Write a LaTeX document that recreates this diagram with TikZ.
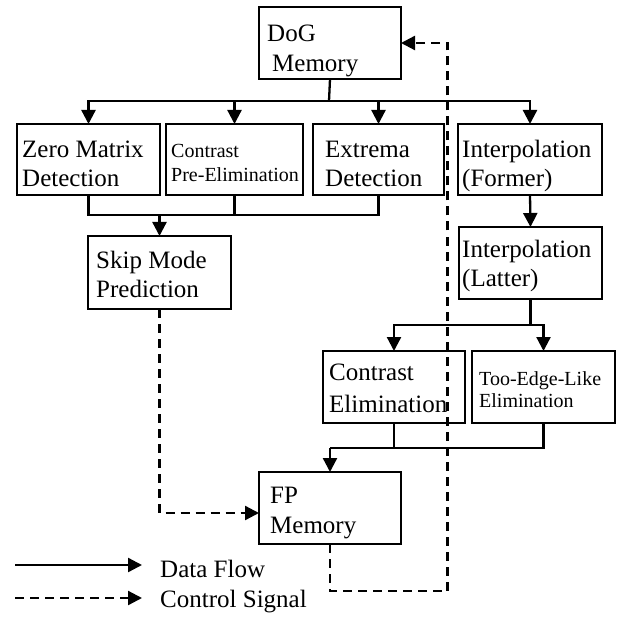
\documentclass[tikz,border=0pt]{standalone}
\usepackage{fontspec}
\setmainfont{Liberation Serif}
\usetikzlibrary{arrows.meta}

\begin{document}
\begin{tikzpicture}[x=1pt,y=-1pt,
  box/.style={draw, line width=2pt, inner sep=0pt, outer sep=0pt, anchor=north west},
  big/.style={anchor=base west, inner sep=0pt, align=left, font=\fontsize{25}{29}\selectfont},
  small/.style={anchor=base west, inner sep=0pt, align=left, font=\fontsize{20}{23}\selectfont},
  wire/.style={line width=2.3pt},
  tip/.style={-{Triangle[length=14pt,width=14pt]}},
  flow/.style={wire, tip},
  ctrl/.style={wire, dash pattern=on 9pt off 6pt, tip},
]
\useasboundingbox (0,0) rectangle (616,617);

% blocks
\node[box, minimum width=142pt, minimum height=72pt] (dog)   at (259,7)   {};
\node[box, minimum width=143pt, minimum height=71pt] (zero)  at (17,124)  {};
\node[box, minimum width=137pt, minimum height=71pt] (cpre)  at (166,124) {};
\node[box, minimum width=131pt, minimum height=71pt] (extr)  at (313,124) {};
\node[box, minimum width=144pt, minimum height=71pt] (ifor)  at (458,124) {};
\node[box, minimum width=143pt, minimum height=73pt] (skip)  at (88,236)  {};
\node[box, minimum width=143pt, minimum height=72pt] (ilat)  at (459,227) {};
\node[box, minimum width=142pt, minimum height=72pt] (celim) at (323,351) {};
\node[box, minimum width=143pt, minimum height=72pt] (tedge) at (472,351) {};
\node[box, minimum width=142pt, minimum height=72pt] (fp)    at (259,472) {};

% block captions (placed by the baseline of their last line)
\node[big]   (dogt)   at (267,72)  {DoG\\[1pt]\hspace{5pt}Memory};
\node[big]   (zerot)  at (22,187)  {Zero Matrix\\Detection};
\node[small] (cpret)  at (171,182) {Contrast\\[1pt]Pre-Elimination};
\node[big]   (extrt)  at (325,187) {Extrema\\Detection};
\node[big]   (ifort)  at (462,187) {Interpolation\\(Former)};
\node[big]   (skipt)  at (96,297)  {Skip Mode\\Prediction};
\node[big]   (ilatt)  at (462,286) {Interpolation\\(Latter)};
\node[big]   (celimt) at (329,412) {Contrast\\[3pt]Elimination};
\node[small] (tedget) at (479,407) {Too-Edge-Like\\[-1pt]Elimination};
\node[big]   (fpt)    at (270,533) {FP\\[1pt]Memory};

% junction points of the buses
\coordinate (b1) at (329,101);
\coordinate (b2) at (159.5,215);
\coordinate (b3) at (530.5,325);
\coordinate (b4) at (330,448);
\coordinate (fb) at (447.5,591);

% data flow
\draw[wire] (dog.south) -- (b1);
\draw[flow] (b1) -| (zero.north);
\draw[flow] (b1) -| (cpre.north);
\draw[flow] (b1) -| (extr.north);
\draw[flow] (b1) -| (ifor.north);

\draw[wire] (zero.south) |- (b2);
\draw[wire] (cpre.south) |- (b2);
\draw[wire] (extr.south) |- (b2);
\draw[flow] (b2) -- (skip.north);

\draw[flow] (ifor.south) -- (ilat.north);
\draw[wire] (ilat.south) -- (b3);
\draw[flow] (b3) -| (celim.north);
\draw[flow] (b3) -| (tedge.north);

\draw[wire] (celim.south) |- (b4);
\draw[wire] (tedge.south) |- (b4);
\draw[flow] (b4) -- (fp.north);

% control signals
\draw[ctrl] (skip.south) |- ([yshift=-5pt]fp.west);
\draw[ctrl] (fp.south) |- (fb) |- (dog.east);

% legend
\coordinate (l1a) at (15,565);
\coordinate (l1b) at (142,565);
\coordinate (l2a) at (15,598);
\coordinate (l2b) at (142,598);
\draw[flow] (l1a) -- (l1b);
\draw[ctrl] (l2a) -- (l2b);
\node[big] (lg1) at (160,577) {Data Flow};
\node[big] (lg2) at (160,607) {Control Signal};
\end{tikzpicture}
\end{document}
